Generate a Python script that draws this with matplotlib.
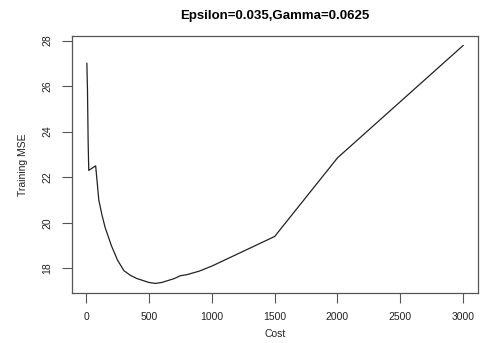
import matplotlib
matplotlib.use("Agg")
import matplotlib.pyplot as plt

plt.rcParams['font.family'] = ['Liberation Sans', 'DejaVu Sans']

# Cost values and training MSE
cost = [5, 10, 15, 20, 75, 100, 125, 150, 200, 250, 300, 350, 400, 500, 550, 600,
        700, 750, 800, 900, 1000, 1500, 2000, 3000]
mse = [27.0, 25.8, 23.6, 22.3, 22.5, 21.0, 20.35, 19.8, 19.0, 18.35, 17.9, 17.7,
       17.56, 17.38, 17.34, 17.38, 17.55, 17.68, 17.72, 17.88, 18.1, 19.4, 22.85, 27.78]

xticks = [0, 500, 1000, 1500, 2000, 2500, 3000]
yticks = [18, 20, 22, 24, 26, 28]

fig = plt.figure(figsize=(4.82, 3.43), dpi=100)
ax = fig.add_axes([0.149, 0.146, 0.843, 0.749])
ax.plot(cost, mse, color="#222222", linewidth=0.9)

rng = max(cost) - min(cost)
ax.set_xlim(min(cost) - 0.04 * rng, max(cost) + 0.04 * rng)
rng = max(mse) - min(mse)
ax.set_ylim(min(mse) - 0.04 * rng, max(mse) + 0.04 * rng)

ax.set_xticks(xticks)
ax.set_yticks(yticks)
ax.set_yticklabels([str(t) for t in yticks], rotation=90, va="center")
ax.tick_params(direction="out", length=7, width=0.8, color="#555555",
               labelsize=7.5, labelcolor="#222222", pad=7)
for s in ax.spines.values():
    s.set_color("#555555")
    s.set_linewidth(0.9)

ax.set_xlabel("Cost", fontsize=7.5, color="#222222", labelpad=5)
ax.set_ylabel("Training MSE", fontsize=7.5, color="#222222", labelpad=10)
ax.set_title("Epsilon=0.035,Gamma=0.0625", fontsize=9.5, fontweight="bold", pad=12)

fig.savefig("out.png", dpi=100)
